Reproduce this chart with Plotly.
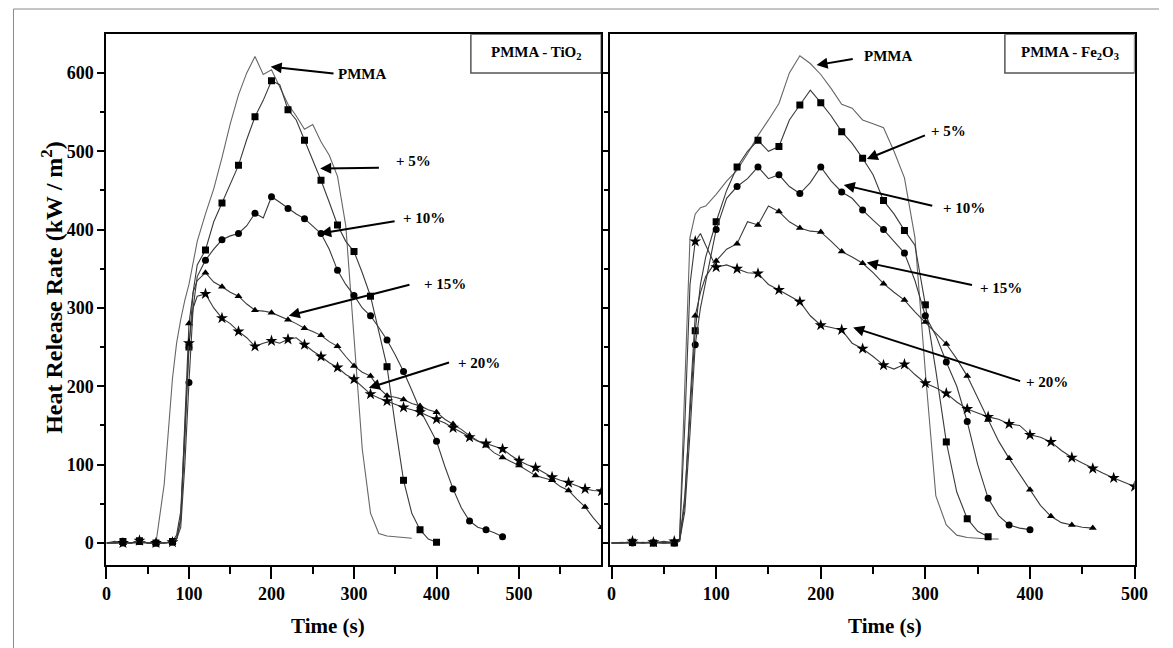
import numpy as np
import plotly.graph_objects as go

# time grids (s), denser around ignition
t_tio2 = list(range(0, 90, 10)) + [85, 90, 95, 100, 105, 110] + list(range(120, 601, 10))
t_fe2o3 = list(range(0, 70, 10)) + [65, 70, 75, 80, 85, 90] + list(range(100, 501, 10))

# PMMA - TiO2 heat release rate (kW/m2)
tio2_pmma = [0, 0, 1, 0, 4, 0, 0, 75, 210, 255, 285, 310, 330, 360, 385,
             420, 452, 492, 535, 572, 600, 621, 598, 604, 582, 560, 545, 528, 534, 512,
             495, 468, 405, 265, 120, 38, 12, 9, 8, 7, 6]
tio2_5 = [0, 0, 2, 0, 3, 0, 0, 0, 2, 10, 40, 150, 250, 320, 355,
          374, 410, 434, 458, 482, 515, 544, 565, 590, 585, 553, 540, 514, 490, 463,
          435, 406, 385, 372, 345, 315, 270, 225, 150, 80, 38, 17, 5, 1]
tio2_10 = [0, 0, 0, 0, 2, 0, 0, 0, 1, 5, 20, 100, 205, 300, 340,
           361, 375, 387, 392, 395, 405, 421, 415, 442, 435, 427, 420, 414, 405, 395,
           375, 348, 330, 316, 300, 290, 275, 259, 240, 219, 195, 170, 150, 130, 98,
           69, 45, 28, 20, 17, 13, 8]
tio2_15 = [0, 0, 0, 0, 0, 0, 0, 0, 1, 5, 30, 150, 280, 320, 335,
           345, 333, 327, 320, 315, 305, 297, 296, 294, 290, 285, 280, 274, 270, 265,
           257, 251, 238, 226, 218, 213, 198, 188, 186, 183, 178, 175, 170, 167, 158,
           152, 145, 137, 130, 124, 115, 109, 104, 99, 93, 86, 83, 80, 72, 67,
           56, 46, 32, 20]
tio2_20 = [0, 2, 0, 0, 3, 0, 0, 0, 1, 5, 30, 130, 255, 300, 315,
           318, 300, 287, 280, 270, 262, 251, 255, 258, 255, 260, 262, 253, 245, 238,
           230, 224, 215, 209, 200, 190, 185, 181, 177, 173, 170, 167, 162, 158, 153,
           147, 141, 135, 130, 127, 123, 120, 112, 105, 100, 96, 90, 84, 80, 77,
           73, 69, 67, 66]

# PMMA - Fe2O3 heat release rate (kW/m2)
fe_pmma = [0, 1, 0, 0, 2, 0, 1, 5, 200, 390, 420, 428, 430,
           445, 462, 476, 497, 520, 540, 561, 600, 622, 612, 598, 580, 560, 555, 540,
           535, 530, 500, 466, 390, 218, 60, 23, 10, 7, 6, 5, 5]
fe_5 = [0, 0, 1, 0, 0, 2, 0, 2, 60, 160, 271, 330, 365,
        410, 450, 480, 500, 514, 500, 506, 540, 559, 578, 562, 545, 525, 510, 491,
        470, 437, 420, 399, 380, 304, 220, 129, 65, 31, 15, 8]
fe_10 = [0, 0, 0, 1, 0, 0, 0, 2, 40, 140, 253, 300, 335,
         400, 440, 455, 465, 480, 465, 470, 455, 446, 460, 480, 462, 448, 440, 425,
         412, 400, 385, 370, 335, 290, 265, 231, 200, 155, 100, 57, 35, 23, 19, 17]
fe_15 = [0, 0, 0, 0, 1, 0, 0, 2, 50, 180, 290, 320, 340,
         360, 375, 382, 410, 406, 430, 423, 410, 402, 398, 397, 385, 372, 365, 357,
         345, 331, 320, 310, 295, 282, 268, 254, 235, 213, 185, 157, 130, 108, 88,
         68, 48, 34, 26, 23, 20, 19]
fe_20 = [0, 0, 2, 0, 1, 0, 2, 5, 150, 330, 385, 395, 380,
         352, 355, 350, 345, 344, 330, 323, 315, 308, 290, 278, 275, 272, 255, 248,
         238, 227, 222, 228, 215, 204, 198, 191, 180, 171, 166, 161, 158, 152, 150,
         138, 135, 129, 118, 109, 102, 95, 89, 83, 78, 72]

labels = ['PMMA', '+ 5%', '+ 10%', '+ 15%', '+ 20%']
symbols = [None, 'square', 'circle', 'triangle-up', 'star']

# arrow heads, arrow tails and label centres (data units)
tio2_heads = [(199, 608), (259, 478), (259, 395), (221, 290), (318, 198)]
tio2_tails = [(277, 599), (332, 479), (351, 411), (369, 330), (417, 231)]
tio2_text = [(310, 598), (372, 488), (385, 415), (410, 330), (452, 230)]
fe_heads = [(196, 610), (244, 490), (222, 457), (244, 358), (231, 275)]
fe_tails = [(232, 618), (301, 521), (308, 430), (346, 329), (392, 206)]
fe_text = [(264, 621), (322, 526), (337, 428), (372, 326), (416, 206)]

# page body keeps an 8 px margin, so the figure is 8 px smaller than the window
W, H = 1165, 640
FONT = 'Liberation Serif'

fig = go.Figure()


def add_panel(t, series, xa, ya):
    t = np.array(t)
    for name, vals, sym in zip(labels, series, symbols):
        x = t[:len(vals)]
        y = np.array(vals)
        col = '#666666' if sym is None else '#3a3a3a'
        fig.add_trace(go.Scatter(x=x, y=y, mode='lines', name=name,
                                 line=dict(color=col, width=1.1),
                                 xaxis=xa, yaxis=ya, showlegend=False))
        if sym:
            m = (x > 0) & (x % 20 == 0)
            fig.add_trace(go.Scatter(x=x[m], y=y[m], mode='markers', name=name,
                                     marker=dict(symbol=sym, size=7 if sym != 'star' else 9,
                                                 color='black'),
                                     xaxis=xa, yaxis=ya, showlegend=False))


add_panel(t_tio2, [tio2_pmma, tio2_5, tio2_10, tio2_15, tio2_20], 'x', 'y')
add_panel(t_fe2o3, [fe_pmma, fe_5, fe_10, fe_15, fe_20], 'x2', 'y2')

y_dom = [1 - 556.6 / H, 1 - 26.3 / H]
y_rng = [-27.6, 649.3]
tick_font = dict(family=FONT, size=18, color='black', weight='bold')

xcommon = dict(showgrid=False, zeroline=False, showline=True, mirror=True,
               linecolor='black', linewidth=2, ticks='outside', ticklen=12,
               tickwidth=2, tickcolor='black', dtick=100, tickfont=tick_font,
               minor=dict(dtick=50, ticks='outside', ticklen=7, tickwidth=2,
                          tickcolor='black', showgrid=False))
ycommon = dict(showgrid=False, zeroline=False, showline=True, mirror=True,
               linecolor='black', linewidth=2, ticks='outside', ticklen=7,
               tickwidth=2, tickcolor='black', dtick=100, tickfont=tick_font,
               range=y_rng, domain=y_dom,
               minor=dict(dtick=50, ticks='outside', ticklen=4, tickwidth=2,
                          tickcolor='black', showgrid=False))

fig.update_layout(
    width=W, height=H,
    margin=dict(l=0, r=0, t=0, b=0),
    paper_bgcolor='white', plot_bgcolor='white',
    showlegend=False,
    xaxis=dict(xcommon, domain=[95 / W, 598 / W], range=[0, 599.6], anchor='y'),
    yaxis=dict(ycommon, anchor='x'),
    xaxis2=dict(xcommon, domain=[607.4 / W, 1140.2 / W], range=[-1, 500], anchor='y2'),
    yaxis2=dict(ycommon, anchor='x2', showticklabels=False),
)

ann_font = dict(family=FONT, size=15, color='black', weight='bold')
annotations = []
for heads, tails, texts, xr, yr in [(tio2_heads, tio2_tails, tio2_text, 'x', 'y'),
                                     (fe_heads, fe_tails, fe_text, 'x2', 'y2')]:
    for lab, (hx, hy), (tx, ty), (cx, cy) in zip(labels, heads, tails, texts):
        annotations.append(dict(x=hx, y=hy, ax=tx, ay=ty, xref=xr, yref=yr,
                                axref=xr, ayref=yr, text='', showarrow=True,
                                arrowhead=2, arrowsize=1.1, arrowwidth=2,
                                arrowcolor='black'))
        annotations.append(dict(x=cx, y=cy, xref=xr, yref=yr, text=lab,
                                xanchor='center', yanchor='middle',
                                showarrow=False, font=ann_font))

# panel captions
annotations.append(dict(x=521, y=625, xref='x', yref='y', text='PMMA - TiO<sub>2</sub>',
                        xanchor='center', yanchor='middle', showarrow=False, font=ann_font))
annotations.append(dict(x=438, y=625, xref='x2', yref='y2',
                        text='PMMA - Fe<sub>2</sub>O<sub>3</sub>',
                        xanchor='center', yanchor='middle', showarrow=False, font=ann_font))

# axis titles
title_font = dict(family=FONT, size=21, color='black', weight='bold')
annotations.append(dict(x=39.5 / W, y=1 - 279 / H, xref='paper', yref='paper',
                        text='Heat Release Rate (kW / m<sup>2</sup>)', textangle=-90,
                        xanchor='center', yanchor='middle', showarrow=False,
                        font=dict(title_font, size=24)))
annotations.append(dict(x=320 / W, y=1 - 618 / H, xref='paper', yref='paper',
                        text='Time (s)', xanchor='center', yanchor='middle',
                        showarrow=False, font=title_font))
annotations.append(dict(x=886 / W, y=1 - 618 / H, xref='paper', yref='paper',
                        text='Time (s)', xanchor='center', yanchor='middle',
                        showarrow=False, font=title_font))
fig.update_layout(annotations=annotations)

shapes = [
    dict(type='rect', xref='x', yref='y', x0=441.6, x1=599.6, y0=600, y1=649.3,
         line=dict(color='#555555', width=1.5)),
    dict(type='rect', xref='x2', yref='y2', x0=376, x1=500, y0=600, y1=649.3,
         line=dict(color='#555555', width=1.5)),
    dict(type='line', xref='paper', yref='paper', x0=0.5 / W, x1=0.5 / W, y0=0, y1=1 - 1 / H,
         line=dict(color='#8a8a8a', width=1)),
    dict(type='line', xref='paper', yref='paper', x0=0.5 / W, x1=1, y0=1 - 1 / H, y1=1 - 1 / H,
         line=dict(color='#8a8a8a', width=1)),
]
fig.update_layout(shapes=shapes)

fig.write_html("out.html")
